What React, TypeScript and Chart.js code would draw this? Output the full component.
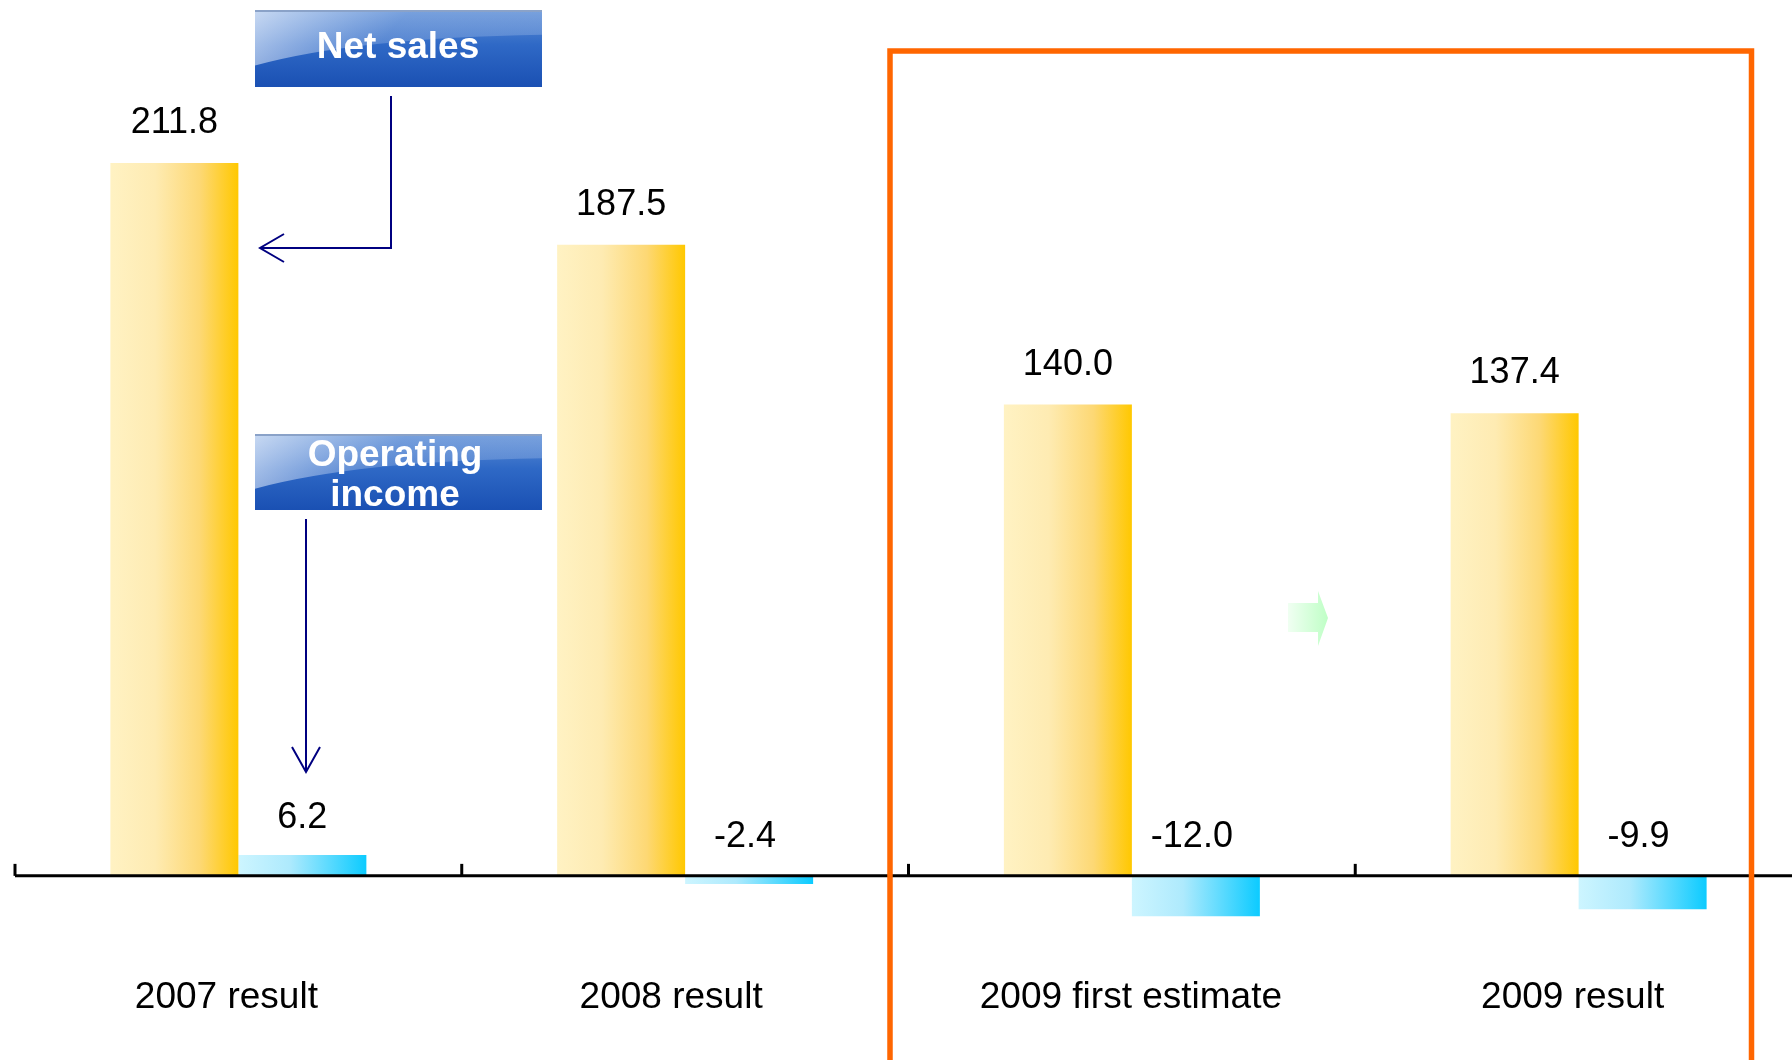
import React, { useEffect, useRef } from "react";
import { Chart, registerables } from "chart.js";

Chart.register(...registerables);

const categories = ["2007 result", "2008 result", "2009 first estimate", "2009 result"];
const netSales = [211.8, 187.5, 140.0, 137.4];
const operatingIncome = [6.2, -2.4, -12.0, -9.9];
const seriesNames = ["Net sales", "Operating income"];
const valueLabels = [
  ["211.8", "187.5", "140.0", "137.4"],
  ["6.2", "-2.4", "-12.0", "-9.9"],
];

const FONT = '"Liberation Sans", Arial, Helvetica, sans-serif';
const LABEL_SHIFT = [-12, -14, -1, -6];

function drawBox(ctx: CanvasRenderingContext2D, x: number, y: number, w: number, h: number) {
  const base = ctx.createLinearGradient(0, y, 0, y + h);
  base.addColorStop(0, "#5f8fd6");
  base.addColorStop(0.45, "#2f69c6");
  base.addColorStop(1, "#1a50b3");
  ctx.fillStyle = base;
  ctx.fillRect(x, y, w, h);
  ctx.save();
  ctx.beginPath();
  ctx.rect(x, y, w, h);
  ctx.clip();
  ctx.beginPath();
  ctx.moveTo(x, y);
  ctx.lineTo(x + w, y);
  ctx.lineTo(x + w, y + h * 0.32);
  ctx.quadraticCurveTo(x + w * 0.35, y + h * 0.36, x, y + h * 0.72);
  ctx.closePath();
  const gl = ctx.createLinearGradient(x, y, x + w * 0.3, y + h);
  gl.addColorStop(0, "rgba(235,242,252,0.75)");
  gl.addColorStop(1, "rgba(200,218,245,0.25)");
  ctx.fillStyle = gl;
  ctx.fill();
  ctx.restore();
  ctx.fillStyle = "#8aa2c8";
  ctx.fillRect(x, y, w, 2);
}

function arrowHead(ctx: CanvasRenderingContext2D, tipX: number, tipY: number, a1x: number, a1y: number, a2x: number, a2y: number) {
  ctx.beginPath();
  ctx.moveTo(a1x, a1y);
  ctx.lineTo(tipX, tipY);
  ctx.lineTo(a2x, a2y);
  ctx.stroke();
}

const decorPlugin = {
  id: "decor",
  beforeDatasetsDraw(chart: any) {
    const ctx = chart.ctx as CanvasRenderingContext2D;
    chart.data.datasets.forEach((_ds: any, di: number) => {
      const meta = chart.getDatasetMeta(di);
      meta.data.forEach((el: any) => {
        const { x, width } = el.getProps(["x", "width"], true);
        const g = ctx.createLinearGradient(x - width / 2, 0, x + width / 2, 0);
        if (di === 0) {
          g.addColorStop(0, "#fff2c3");
          g.addColorStop(0.35, "#feebb2");
          g.addColorStop(0.7, "#fdd874");
          g.addColorStop(1, "#ffc800");
        } else {
          g.addColorStop(0, "#cdf5ff");
          g.addColorStop(0.4, "#aeeafd");
          g.addColorStop(1, "#0ccbff");
        }
        el.options = Object.assign({}, el.options, { backgroundColor: g });
      });
    });
  },
  afterDatasetsDraw(chart: any) {
    const ctx = chart.ctx as CanvasRenderingContext2D;
    const xs = chart.scales.x;
    const ys = chart.scales.y;
    const y0 = ys.getPixelForValue(0);
    const n = categories.length;
    const catW = xs.width / n;

    ctx.save();
    ctx.strokeStyle = "#000000";
    ctx.lineWidth = 3;
    ctx.beginPath();
    ctx.moveTo(xs.left, y0);
    ctx.lineTo(chart.width, y0);
    ctx.stroke();
    for (let i = 0; i <= n; i++) {
      const tx = xs.left + i * catW;
      ctx.beginPath();
      ctx.moveTo(tx, y0);
      ctx.lineTo(tx, y0 - 12);
      ctx.stroke();
    }

    ctx.fillStyle = "#000000";
    ctx.font = `36px ${FONT}`;
    ctx.textAlign = "center";
    ctx.textBaseline = "middle";
    chart.data.datasets.forEach((ds: any, di: number) => {
      const meta = chart.getDatasetMeta(di);
      meta.data.forEach((el: any, i: number) => {
        const v = ds.data[i];
        if (v >= 0) {
          ctx.fillText(valueLabels[di][i], el.x, ys.getPixelForValue(v) - (di === 0 ? 40 : 37));
        } else {
          ctx.fillText(valueLabels[di][i], el.x - 4, y0 - 39);
        }
      });
    });

    ctx.font = `37px ${FONT}`;
    categories.forEach((c, i) => {
      const cx = xs.getPixelForValue(i);
      ctx.fillText(c, cx + LABEL_SHIFT[i], 998);
    });

    drawBox(ctx, 255, 10, 287, 77);
    drawBox(ctx, 255, 434, 287, 76);
    ctx.fillStyle = "#ffffff";
    ctx.font = `bold 37px ${FONT}`;
    ctx.textBaseline = "alphabetic";
    ctx.fillText(seriesNames[0], 398, 58);
    const [w1, w2] = seriesNames[1].split(" ");
    ctx.fillText(w1, 395, 466);
    ctx.fillText(w2, 395, 506);

    ctx.strokeStyle = "#000080";
    ctx.lineWidth = 2;
    ctx.lineJoin = "miter";
    ctx.beginPath();
    ctx.moveTo(391, 96);
    ctx.lineTo(391, 248);
    ctx.lineTo(260, 248);
    ctx.stroke();
    arrowHead(ctx, 260, 248, 284, 234, 284, 262);
    ctx.beginPath();
    ctx.moveTo(306, 519);
    ctx.lineTo(306, 772);
    ctx.stroke();
    arrowHead(ctx, 306, 772, 292, 747, 320, 747);

    const gg = ctx.createLinearGradient(1288, 0, 1328, 0);
    gg.addColorStop(0, "rgba(240,255,242,1)");
    gg.addColorStop(1, "#bfffc6");
    ctx.fillStyle = gg;
    ctx.beginPath();
    ctx.moveTo(1288, 603);
    ctx.lineTo(1318, 603);
    ctx.lineTo(1318, 591);
    ctx.lineTo(1328, 618);
    ctx.lineTo(1318, 646);
    ctx.lineTo(1318, 632);
    ctx.lineTo(1288, 632);
    ctx.closePath();
    ctx.fill();

    ctx.strokeStyle = "#ff6600";
    ctx.lineWidth = 5.5;
    ctx.lineJoin = "miter";
    ctx.beginPath();
    ctx.moveTo(890, 1070);
    ctx.lineTo(890, 51);
    ctx.lineTo(1751.5, 51);
    ctx.lineTo(1751.5, 1070);
    ctx.stroke();
    ctx.restore();
  },
};

export default function App() {
  const ref = useRef<HTMLCanvasElement | null>(null);
  useEffect(() => {
    document.body.style.margin = "0";
    const canvas = ref.current!;
    const chart = new Chart(canvas, {
      type: "bar",
      data: {
        labels: categories,
        datasets: [
          { label: seriesNames[0], data: netSales, backgroundColor: "#ffc800", borderWidth: 0 },
          { label: seriesNames[1], data: operatingIncome, backgroundColor: "#0ccbff", borderWidth: 0 },
        ],
      },
      options: {
        responsive: false,
        animation: false,
        events: [],
        devicePixelRatio: 1,
        layout: { padding: { left: 15, right: 0, top: 0, bottom: 0 } },
        datasets: { bar: { categoryPercentage: 0.573, barPercentage: 1 } },
        plugins: { legend: { display: false }, tooltip: { enabled: false }, title: { display: false } },
        scales: {
          x: { display: false, offset: true },
          y: { display: false, min: -54.7, max: 260.2 },
        },
      },
      plugins: [decorPlugin],
    });
    return () => chart.destroy();
  }, []);
  return (
    <div style={{ position: "fixed", left: 0, top: 0, width: 1792, height: 1060, overflow: "hidden", background: "#ffffff" }}>
      <canvas ref={ref} width={1802} height={1060} style={{ display: "block", width: 1802, height: 1060 }} />
    </div>
  );
}
